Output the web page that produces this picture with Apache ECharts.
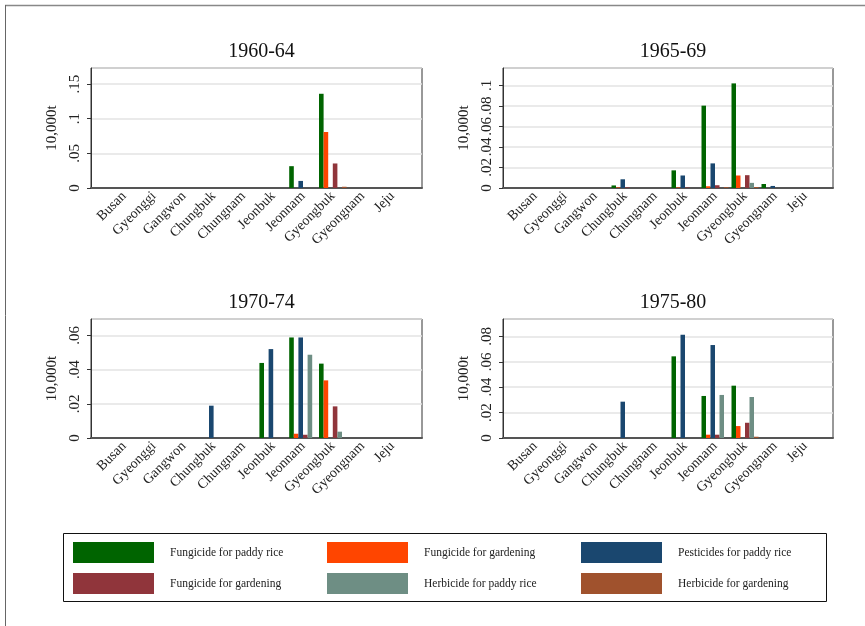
<!DOCTYPE html>
<html>
<head>
<meta charset="utf-8">
<script src="https://cdn.jsdelivr.net/npm/echarts@6/dist/echarts.min.js"></script>
<style>
  html, body { margin: 0; padding: 0; background: #fff; }
  #chart { width: 865px; height: 626px; }
</style>
</head>
<body>
<div id="chart"></div>
<script>
// 지역 (x축)
const regions = ['Busan', 'Gyeonggi', 'Gangwon', 'Chungbuk', 'Chungnam', 'Jeonbuk', 'Jeonnam', 'Gyeongbuk', 'Gyeongnam', 'Jeju'];
// series keys are unique, labels are what the legend shows (two are the same text)
const seriesKeys = ['fungPaddy', 'fungGarden', 'pestPaddy', 'fungGarden2', 'herbPaddy', 'herbGarden'];
const seriesLabels = ['Fungicide for paddy rice', 'Fungicide for gardening', 'Pesticides for paddy rice',
  'Fungicide for gardening', 'Herbicide for paddy rice', 'Herbicide for gardening'];
const periods = ['1960-64', '1965-69', '1970-74', '1975-80'];

// values in 10,000t, one row per series (same order as seriesKeys)
const data1960 = [
  [0, 0, 0, 0, 0, 0, 0.0315, 0.136, 0, 0],
  [0, 0, 0, 0, 0, 0, 0, 0.0808, 0, 0],
  [0, 0, 0, 0, 0, 0, 0.0102, 0, 0, 0],
  [0, 0, 0, 0, 0, 0, 0, 0.0354, 0, 0],
  [0, 0, 0, 0, 0, 0, 0, 0, 0, 0],
  [0, 0, 0, 0, 0, 0, 0, 0.0018, 0, 0]
];
const data1965 = [
  [0, 0, 0, 0.0025, 0, 0.0172, 0.0803, 0.102, 0.0039, 0],
  [0, 0, 0, 0.0005, 0, 0.0005, 0.0017, 0.0122, 0, 0],
  [0, 0, 0, 0.0085, 0, 0.0122, 0.024, 0, 0.002, 0],
  [0, 0, 0, 0.0006, 0, 0.0005, 0.0027, 0.0125, 0, 0],
  [0, 0, 0, 0, 0, 0, 0, 0.005, 0, 0],
  [0, 0, 0, 0, 0, 0, 0.0008, 0.001, 0, 0]
];
const data1970 = [
  [0, 0, 0, 0, 0, 0.0439, 0.0588, 0.0435, 0, 0],
  [0, 0, 0, 0, 0, 0, 0.0025, 0.0337, 0, 0],
  [0, 0, 0, 0.0189, 0, 0.052, 0.0588, 0, 0, 0],
  [0, 0, 0, 0, 0, 0, 0.0019, 0.0185, 0, 0],
  [0, 0, 0, 0, 0, 0, 0.0487, 0.0037, 0, 0],
  [0, 0, 0, 0, 0, 0, 0, 0, 0, 0]
];
const data1975 = [
  [0, 0, 0, 0, 0, 0.0643, 0.0331, 0.0412, 0, 0],
  [0, 0, 0, 0, 0, 0, 0.0026, 0.0094, 0, 0],
  [0, 0, 0, 0.0286, 0, 0.0813, 0.0732, 0, 0, 0],
  [0, 0, 0, 0, 0, 0, 0.0026, 0.012, 0, 0],
  [0, 0, 0, 0, 0, 0, 0.0339, 0.0323, 0, 0],
  [0, 0, 0, 0, 0, 0, 0, 0.001, 0, 0]
];
const panelData = [data1960, data1965, data1970, data1975];

// y축 눈금
const ticks1960 = ['0', '.05', '.1', '.15'];
const ticks1965 = ['0', '.02', '.04', '.06', '.08', '.1'];
const ticks1970 = ['0', '.02', '.04', '.06'];
const ticks1975 = ['0', '.02', '.04', '.06', '.08'];
const panelTicks = [ticks1960, ticks1965, ticks1970, ticks1975];
const yMax = [0.1732, 0.117, 0.0696, 0.0937];
const yStep = [0.05, 0.02, 0.02, 0.02];

const colors = ['#006400', '#ff4500', '#1a476f', '#90353b', '#6e8e84', '#a0522d'];
const serif = 'Liberation Serif';

// plot boxes and the narrower bar areas inside them
const boxes = [
  { l: 91, t: 68, w: 331, h: 120, bl: 109.3, bw: 298, bar: 4.6 },
  { l: 503, t: 68, w: 330, h: 120, bl: 520, bw: 300, bar: 4.5 },
  { l: 91, t: 319, w: 331, h: 119, bl: 109.3, bw: 298, bar: 4.6 },
  { l: 503, t: 319, w: 330, h: 119, bl: 520, bw: 300, bar: 4.5 }
];

const grid = [], xAxis = [], yAxis = [], series = [], title = [];

boxes.forEach(function (b, p) {
  const ticks = panelTicks[p];
  const step = yStep[p];
  // frame grid: border, gridlines, y labels
  grid.push({
    left: b.l, top: b.t, width: b.w, height: b.h,
    show: true, borderColor: '#333', borderWidth: 1, backgroundColor: '#fff',
    outerBoundsMode: 'none'
  });
  // bar grid
  grid.push({
    left: b.bl, top: b.t, width: b.bw, height: b.h,
    outerBoundsMode: 'none'
  });
  xAxis.push({
    gridIndex: 2 * p, type: 'value', min: 0, max: 1,
    axisLine: { show: true, lineStyle: { color: '#555', width: 2 } },
    axisTick: { show: false }, axisLabel: { show: false }, splitLine: { show: false }
  });
  xAxis.push({
    gridIndex: 2 * p + 1, type: 'category', data: regions,
    axisLine: { show: false }, axisTick: { show: false },
    axisLabel: {
      interval: 0, rotate: 45, margin: 6,
      fontFamily: serif, fontSize: 14, color: '#222'
    }
  });
  yAxis.push({
    gridIndex: 2 * p, type: 'value', min: 0, max: yMax[p], interval: step,
    name: '10,000t', nameLocation: 'middle', nameGap: 31,
    nameTextStyle: { fontFamily: serif, fontSize: 15, color: '#222' },
    axisLine: { show: true, lineStyle: { color: '#333', width: 1 } },
    axisTick: { show: true, length: 4, lineStyle: { color: '#333' } },
    axisLabel: {
      rotate: 90, margin: 8, showMaxLabel: false,
      fontFamily: serif, fontSize: 15, color: '#222',
      formatter: function (v) {
        const i = Math.round(v / step);
        if (Math.abs(v - i * step) > step * 1e-3) return '';
        return ticks[i] || '';
      }
    },
    splitLine: { show: true, lineStyle: { color: '#e3e3e3', width: 1.5 } }
  });
  yAxis.push({
    gridIndex: 2 * p + 1, type: 'value', min: 0, max: yMax[p], show: false
  });
  title.push({
    text: periods[p], left: b.l + b.w / 2, top: b.t - 31, textAlign: 'center',
    textStyle: { fontFamily: serif, fontSize: 20, fontWeight: 'normal', color: '#111' }
  });
  panelData[p].forEach(function (row, s) {
    series.push({
      type: 'bar', name: seriesKeys[s],
      xAxisIndex: 2 * p + 1, yAxisIndex: 2 * p + 1,
      barWidth: b.bar, barGap: '0%',
      itemStyle: { color: colors[s] },
      data: row
    });
  });
});

// legend: one item per slot, 3 columns x 2 rows
const legendCols = [73, 327, 581];
const legendRows = [542, 573];
const legend = seriesKeys.map(function (k, i) {
  return {
    data: [k], left: legendCols[i % 3], top: legendRows[Math.floor(i / 3)],
    padding: 0,
    icon: 'rect', itemWidth: 81, itemHeight: 21, selectedMode: false,
    formatter: function (n) { return seriesLabels[seriesKeys.indexOf(n)]; },
    textStyle: { fontFamily: serif, fontSize: 11.5, color: '#222', padding: [0, 0, 0, 11] }
  };
});

const option = {
  animation: false,
  color: colors,
  title: title,
  grid: grid,
  xAxis: xAxis,
  yAxis: yAxis,
  legend: legend,
  series: series,
  graphic: [
    { type: 'line', shape: { x1: 5, y1: 5.5, x2: 865, y2: 5.5 }, style: { stroke: '#888', lineWidth: 1.5 } },
    { type: 'line', shape: { x1: 5.5, y1: 5, x2: 5.5, y2: 626 }, style: { stroke: '#666', lineWidth: 1 } },
    { type: 'rect', shape: { x: 63.5, y: 533.5, width: 763, height: 68 }, style: { fill: 'none', stroke: '#111', lineWidth: 1 } }
  ]
};

const myChart = echarts.init(document.getElementById('chart'));
myChart.setOption(option);
</script>
</body>
</html>
